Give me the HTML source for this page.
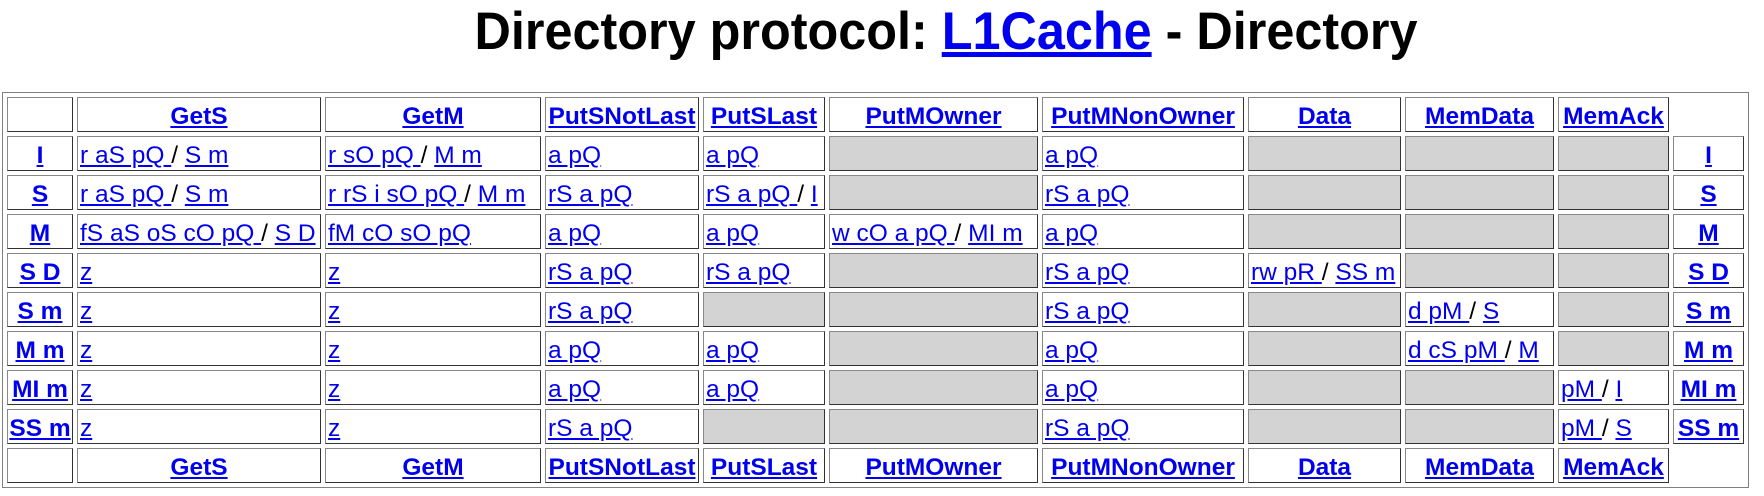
<!DOCTYPE html>
<html><head><meta charset="utf-8">
<style>
html,body{margin:0;padding:0;background:#fff;width:1764px;height:496px;overflow:hidden;font-family:"Liberation Sans",sans-serif;}
#t{position:absolute;left:946px;top:2px;transform:translateX(-50%) scaleX(0.95);white-space:nowrap;font-weight:bold;font-size:53px;line-height:60px;color:#000;}
#t a{color:#0000ee;}
table{position:absolute;left:2px;top:92px;width:1747px;border:1px solid #808080;border-collapse:separate;border-spacing:4px;table-layout:fixed;}
td,th{border:1px solid #808080;border-right-color:#333;border-bottom-color:#333;border-left-color:#888;border-top-color:#888;height:35px;padding:4px 2px 0 2px;font-size:24.5px;white-space:nowrap;overflow:hidden;box-sizing:border-box;line-height:28px;}
th{text-align:center;font-weight:bold;font-size:24.5px;padding-left:0;padding-right:0;}
td{text-align:left;}
a{color:#0000ee;text-decoration:underline;}
.g{background:#d3d3d3;}
.e{border:none;}
</style></head><body>
<div id="t">Directory protocol: <a>L1Cache</a> - Directory</div>
<table>
<colgroup><col style="width:66px"><col style="width:244px"><col style="width:216px"><col style="width:154px"><col style="width:122px"><col style="width:209px"><col style="width:202px"><col style="width:153px"><col style="width:149px"><col style="width:111px"><col style="width:71px"></colgroup>
<tr><th></th><th><a>GetS</a></th><th><a>GetM</a></th><th><a>PutSNotLast</a></th><th><a>PutSLast</a></th><th><a>PutMOwner</a></th><th><a>PutMNonOwner</a></th><th><a>Data</a></th><th><a>MemData</a></th><th><a>MemAck</a></th><th class="e"></th></tr>
<tr><th><a>I</a></th><td><a>r aS pQ </a>/ <a>S m</a></td><td><a>r sO pQ </a>/ <a>M m</a></td><td><a>a pQ</a></td><td><a>a pQ</a></td><td class="g"></td><td><a>a pQ</a></td><td class="g"></td><td class="g"></td><td class="g"></td><th><a>I</a></th></tr>
<tr><th><a>S</a></th><td><a>r aS pQ </a>/ <a>S m</a></td><td><a>r rS i sO pQ </a>/ <a>M m</a></td><td><a>rS a pQ</a></td><td><a>rS a pQ </a>/ <a>I</a></td><td class="g"></td><td><a>rS a pQ</a></td><td class="g"></td><td class="g"></td><td class="g"></td><th><a>S</a></th></tr>
<tr><th><a>M</a></th><td><a>fS aS oS cO pQ </a>/ <a>S D</a></td><td><a>fM cO sO pQ</a></td><td><a>a pQ</a></td><td><a>a pQ</a></td><td><a>w cO a pQ </a>/ <a>MI m</a></td><td><a>a pQ</a></td><td class="g"></td><td class="g"></td><td class="g"></td><th><a>M</a></th></tr>
<tr><th><a>S D</a></th><td><a>z</a></td><td><a>z</a></td><td><a>rS a pQ</a></td><td><a>rS a pQ</a></td><td class="g"></td><td><a>rS a pQ</a></td><td><a>rw pR </a>/ <a>SS m</a></td><td class="g"></td><td class="g"></td><th><a>S D</a></th></tr>
<tr><th><a>S m</a></th><td><a>z</a></td><td><a>z</a></td><td><a>rS a pQ</a></td><td class="g"></td><td class="g"></td><td><a>rS a pQ</a></td><td class="g"></td><td><a>d pM </a>/ <a>S</a></td><td class="g"></td><th><a>S m</a></th></tr>
<tr><th><a>M m</a></th><td><a>z</a></td><td><a>z</a></td><td><a>a pQ</a></td><td><a>a pQ</a></td><td class="g"></td><td><a>a pQ</a></td><td class="g"></td><td><a>d cS pM </a>/ <a>M</a></td><td class="g"></td><th><a>M m</a></th></tr>
<tr><th><a>MI m</a></th><td><a>z</a></td><td><a>z</a></td><td><a>a pQ</a></td><td><a>a pQ</a></td><td class="g"></td><td><a>a pQ</a></td><td class="g"></td><td class="g"></td><td><a>pM </a>/ <a>I</a></td><th><a>MI m</a></th></tr>
<tr><th><a>SS m</a></th><td><a>z</a></td><td><a>z</a></td><td><a>rS a pQ</a></td><td class="g"></td><td class="g"></td><td><a>rS a pQ</a></td><td class="g"></td><td class="g"></td><td><a>pM </a>/ <a>S</a></td><th><a>SS m</a></th></tr>
<tr><th></th><th><a>GetS</a></th><th><a>GetM</a></th><th><a>PutSNotLast</a></th><th><a>PutSLast</a></th><th><a>PutMOwner</a></th><th><a>PutMNonOwner</a></th><th><a>Data</a></th><th><a>MemData</a></th><th><a>MemAck</a></th><th class="e"></th></tr>
</table>
</body></html>
